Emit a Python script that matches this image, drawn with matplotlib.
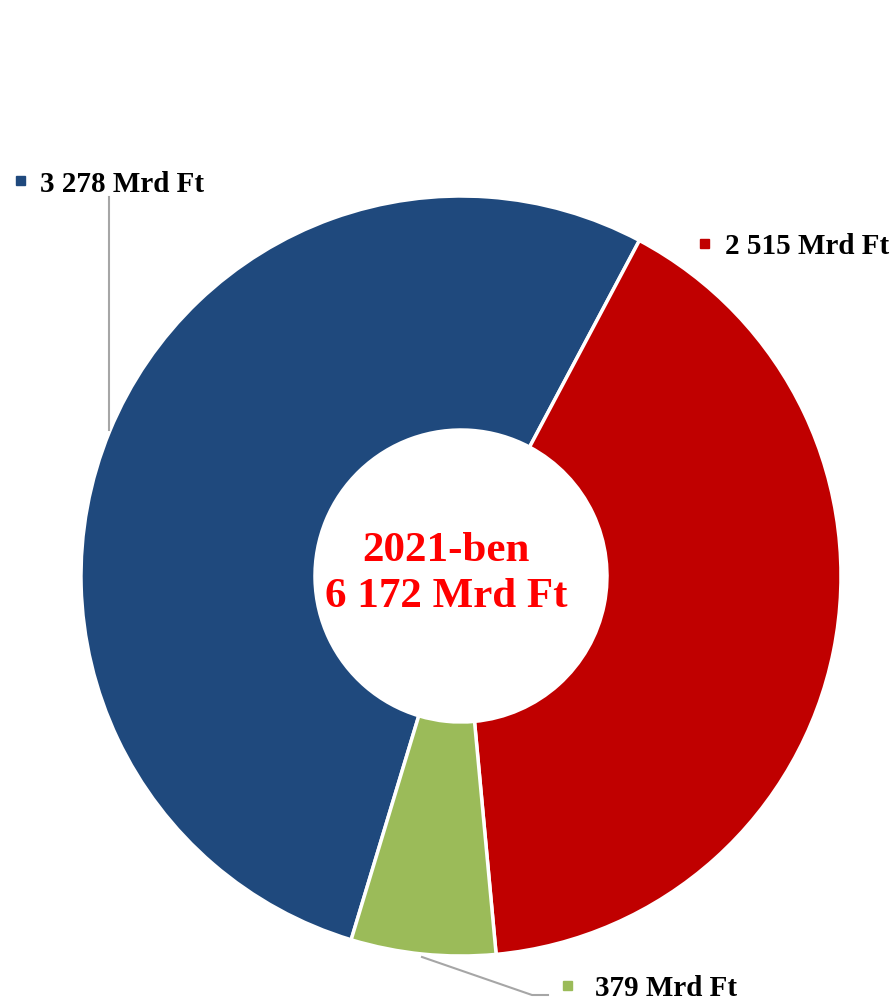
import matplotlib.pyplot as plt
import matplotlib.patches as mpatches

# data
values = [3278, 2515, 379]
labels = ["3 278 Mrd Ft", "2 515 Mrd Ft", "379 Mrd Ft"]
colors = ["#1F497D", "#C00000", "#9BBB59"]
center_text = "2021-ben\n6 172 Mrd Ft"

W, H = 893, 1001
fig = plt.figure(figsize=(W / 100, H / 100), dpi=100)
ax = fig.add_axes([0, 0, 1, 1])

cx, cy = 461, H - 576
R = 380
hole = 146

total = sum(values)
# blue starts at ~196.8 deg clockwise from 12 o'clock
start = 90 - (360 - values[0] / total * 360 + 28)
ax.pie(values, colors=colors, center=(cx, cy), radius=R, startangle=start,
       counterclock=False, frame=True,
       wedgeprops=dict(width=R - hole, edgecolor="white", linewidth=2.5))
ax.set_xlim(0, W)
ax.set_ylim(0, H)
ax.set_aspect("equal")
ax.axis("off")

ax.text(cx - 15, cy + 2, center_text, ha="center", va="center", color="#FF0000",
        fontsize=31, fontweight="bold", family="Liberation Serif", linespacing=1.3)

# labels with small square markers
lab_pos = [(40, H - 185), (725, H - 246), (595, H - 988)]
mk_pos = [(20, H - 180), (704, H - 243), (567, H - 985)]
for (tx, ty), (mx, my), lab, c in zip(lab_pos, mk_pos, labels, colors):
    ax.add_patch(mpatches.Rectangle((mx - 4.5, my - 4.5), 9, 9, color=c))
    ax.text(tx, ty, lab, ha="left", va="center", fontsize=21, fontweight="bold",
            family="Liberation Serif", color="black")

# leader lines
ax.plot([109, 109], [H - 197, H - 430], color="#A6A6A6", lw=1.5)
ax.plot([422, 532, 548], [H - 957, H - 995, H - 995], color="#A6A6A6", lw=1.5)

fig.savefig("out.png", dpi=100)
